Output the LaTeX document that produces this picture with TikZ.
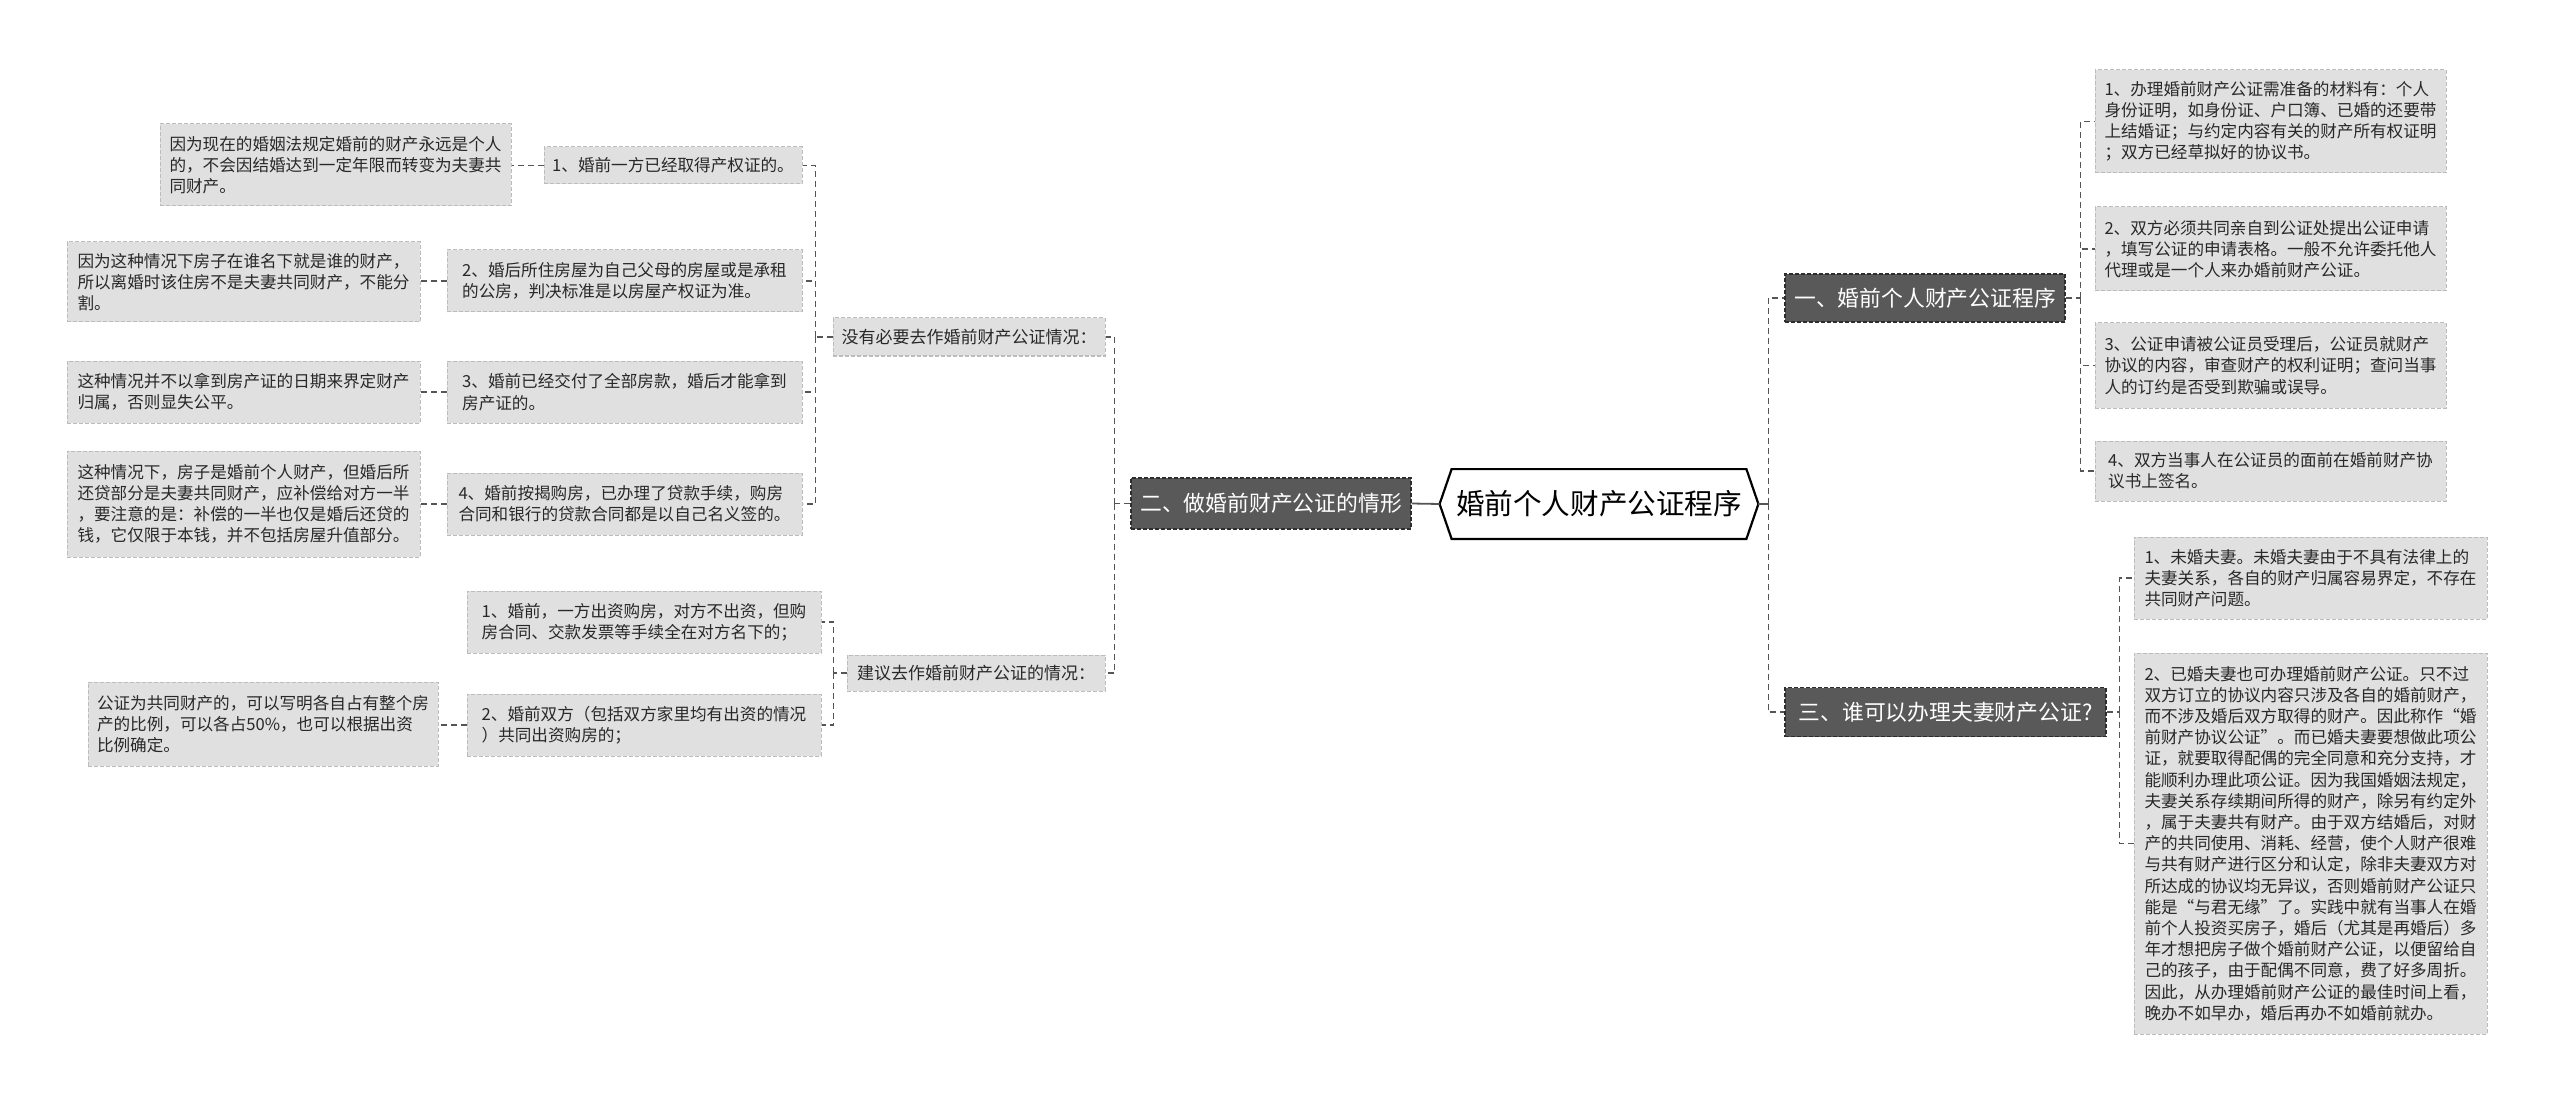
\documentclass[tikz,border=0pt]{standalone}
\usepackage{fontspec}
\newfontfamily\cjk{Noto Sans CJK SC}
\usetikzlibrary{calc}
\definecolor{leaffill}{RGB}{224,224,224}
\definecolor{leafline}{RGB}{188,188,188}
\definecolor{darkfill}{RGB}{89,89,89}
\definecolor{darkline}{RGB}{45,45,45}
\definecolor{conncol}{RGB}{85,85,85}
\definecolor{txt}{RGB}{40,40,40}
\begin{document}
\begin{tikzpicture}[x=0.5pt,y=-0.5pt,
  every node/.style={font=\cjk},
  leaf/.style={fill=leaffill, draw=leafline, dash pattern=on 2pt off 1pt, line width=0.5pt,
    text=txt, align=left, inner xsep=4pt, inner ysep=1pt,
    font=\cjk\fontsize{8.3pt}{10.6pt}\selectfont, minimum width=175.5pt},
  mid/.style={fill=leaffill, draw=leafline, dash pattern=on 2pt off 1pt, line width=0.5pt,
    text=txt, align=left, inner xsep=3pt, inner ysep=1pt,
    font=\cjk\fontsize{8.5pt}{10.6pt}\selectfont},
  dark/.style={fill=darkfill, draw=darkline, dash pattern=on 2pt off 1pt, line width=0.6pt,
    text=white, inner xsep=4pt, inner ysep=1pt,
    font=\cjk\fontsize{10.9pt}{13pt}\selectfont},
  rootbox/.style={inner sep=0pt, font=\cjk\fontsize{14.3pt}{16pt}\selectfont,
    minimum width=159pt, minimum height=34.5pt},
  conn/.style={draw=conncol, line width=0.75pt, dash pattern=on 3pt off 2pt},
  solidconn/.style={draw=conncol, line width=0.9pt}
]
\useasboundingbox[fill=white] (0,0) rectangle (2560,1107);

% root
\node[rootbox] (R) at (1599,504) {婚前个人财产公证程序};
\draw[line width=1.1pt] (R.west) -- ($(R.north west)+(12,0)$) -- ($(R.north east)+(-12,0)$)
  -- (R.east) -- ($(R.south east)+(-12,0)$) -- ($(R.south west)+(12,0)$) -- cycle;

% first level
\node[dark, minimum width=140pt, minimum height=25.5pt] (L0) at (1271,503.5) {二、做婚前财产公证的情形};
\node[dark, minimum width=140pt, minimum height=24pt] (R1) at (1925,298) {一、婚前个人财产公证程序};
\node[dark, minimum width=160.5pt, minimum height=24.5pt] (R3) at (1945.5,712) {三、谁可以办理夫妻财产公证?};

% second level left
\node[mid, minimum width=136pt, minimum height=19pt] (A) at (969,337) {没有必要去作婚前财产公证情况：};
\node[mid, minimum width=129pt, minimum height=18pt] (B) at (976,673) {建议去作婚前财产公证的情况：};

% third level under A
\node[leaf, minimum width=129pt, minimum height=18.5pt] (A1) at (673,165.5) {1、婚前一方已经取得产权证的。};
\node[leaf, minimum width=177.5pt, minimum height=31pt] (A2) at (624.5,281) {2、婚后所住房屋为自己父母的房屋或是承租\\的公房，判决标准是以房屋产权证为准。};
\node[leaf, minimum width=177.5pt, minimum height=31pt] (A3) at (624.5,392) {3、婚前已经交付了全部房款，婚后才能拿到\\房产证的。};
\node[leaf, minimum width=177.5pt, minimum height=31pt] (A4) at (624.5,504) {4、婚前按揭购房，已办理了贷款手续，购房\\合同和银行的贷款合同都是以自己名义签的。};

% leaves under A
\node[leaf, minimum height=41pt] (A1L) at (335.5,165) {因为现在的婚姻法规定婚前的财产永远是个人\\的，不会因结婚达到一定年限而转变为夫妻共\\同财产。};
\node[leaf, minimum width=176.5pt, minimum height=40pt] (A2L) at (243.5,282) {因为这种情况下房子在谁名下就是谁的财产，\\所以离婚时该住房不是夫妻共同财产，不能分\\割。};
\node[leaf, minimum width=176.5pt, minimum height=31pt] (A3L) at (243.5,392) {这种情况并不以拿到房产证的日期来界定财产\\归属，否则显失公平。};
\node[leaf, minimum width=176.5pt, minimum height=53pt] (A4L) at (243.5,504) {这种情况下，房子是婚前个人财产，但婚后所\\还贷部分是夫妻共同财产，应补偿给对方一半\\，要注意的是：补偿的一半也仅是婚后还贷的\\钱，它仅限于本钱，并不包括房屋升值部分。};

% under B
\node[leaf, minimum width=177pt, minimum height=31pt] (B1) at (644,622) {1、婚前，一方出资购房，对方不出资，但购\\房合同、交款发票等手续全在对方名下的；};
\node[leaf, minimum width=177pt, minimum height=31pt] (B2) at (644,725) {2、婚前双方（包括双方家里均有出资的情况\\）共同出资购房的；};
\node[leaf, minimum width=175pt, minimum height=42pt] (B2L) at (263,724) {公证为共同财产的，可以写明各自占有整个房\\产的比例，可以各占50\%，也可以根据出资\\比例确定。};

% right under R1
\node[leaf, minimum height=51.5pt] (R1a) at (2270.5,121.5) {1、办理婚前财产公证需准备的材料有：个人\\身份证明，如身份证、户口簿、已婚的还要带\\上结婚证；与约定内容有关的财产所有权证明\\；双方已经草拟好的协议书。};
\node[leaf, minimum height=42pt] (R1b) at (2270.5,249) {2、双方必须共同亲自到公证处提出公证申请\\，填写公证的申请表格。一般不允许委托他人\\代理或是一个人来办婚前财产公证。};
\node[leaf, minimum height=42.5pt] (R1c) at (2270.5,365.5) {3、公证申请被公证员受理后，公证员就财产\\协议的内容，审查财产的权利证明；查问当事\\人的订约是否受到欺骗或误导。};
\node[leaf, minimum height=30pt] (R1d) at (2270.5,471) {4、双方当事人在公证员的面前在婚前财产协\\议书上签名。};

% right under R3
\node[leaf, minimum width=176.5pt, minimum height=41pt] (R3a) at (2310.5,578) {1、未婚夫妻。未婚夫妻由于不具有法律上的\\夫妻关系，各自的财产归属容易界定，不存在\\共同财产问题。};
\node[leaf, minimum width=176.5pt, minimum height=190.5pt] (R3b) at (2310.5,843.5) {2、已婚夫妻也可办理婚前财产公证。只不过\\双方订立的协议内容只涉及各自的婚前财产，\\而不涉及婚后双方取得的财产。因此称作“婚\\前财产协议公证”。而已婚夫妻要想做此项公\\证，就要取得配偶的完全同意和充分支持，才\\能顺利办理此项公证。因为我国婚姻法规定，\\夫妻关系存续期间所得的财产，除另有约定外\\，属于夫妻共有财产。由于双方结婚后，对财\\产的共同使用、消耗、经营，使个人财产很难\\与共有财产进行区分和认定，除非夫妻双方对\\所达成的协议均无异议，否则婚前财产公证只\\能是“与君无缘”了。实践中就有当事人在婚\\前个人投资买房子，婚后（尤其是再婚后）多\\年才想把房子做个婚前财产公证，以便留给自\\己的孩子，由于配偶不同意，费了好多周折。\\因此，从办理婚前财产公证的最佳时间上看，\\晚办不如早办，婚后再办不如婚前就办。};

% connectors: root
\draw[solidconn] (R.west) -- (L0.east);
\coordinate (bR) at ($(R.east)+(10,0)$);
\draw[solidconn] (R.east) -- (bR);
\draw[conn] (bR) |- (R1.west);
\draw[conn] (bR) |- (R3.west);

% left main bus
\coordinate (bL) at ($(L0.west)+(-16,0)$);
\draw[conn] (L0.west) -- (bL);
\draw[conn] (bL) |- (A.east);
\draw[conn] (bL) |- (B.east);

% A bus
\coordinate (bA) at ($(A.west)+(-17,0)$);
\draw[conn] (A.west) -- (bA);
\foreach \n in {A1,A2,A3,A4} \draw[conn] (bA) |- (\n.east);

% B bus
\coordinate (bB) at ($(B.west)+(-13,0)$);
\draw[conn] (B.west) -- (bB);
\foreach \n in {B1,B2} \draw[conn] (bB) |- (\n.east);

% leaves
\draw[conn] (A1.west) -- (A1.west -| A1L.east);
\draw[conn] (A2.west) -- (A2.west -| A2L.east);
\draw[conn] (A3.west) -- (A3.west -| A3L.east);
\draw[conn] (A4.west) -- (A4.west -| A4L.east);
\draw[conn] (B2.west) -- (B2.west -| B2L.east);

% R1 bus
\coordinate (bR1) at ($(R1.east)+(15,0)$);
\draw[conn] (R1.east) -- (bR1);
\foreach \n in {R1a,R1b,R1c,R1d} \draw[conn] (bR1) |- (\n.west);

% R3 bus
\coordinate (bR3) at ($(R3.east)+(13,0)$);
\draw[conn] (R3.east) -- (bR3);
\foreach \n in {R3a,R3b} \draw[conn] (bR3) |- (\n.west);
\end{tikzpicture}
\end{document}
